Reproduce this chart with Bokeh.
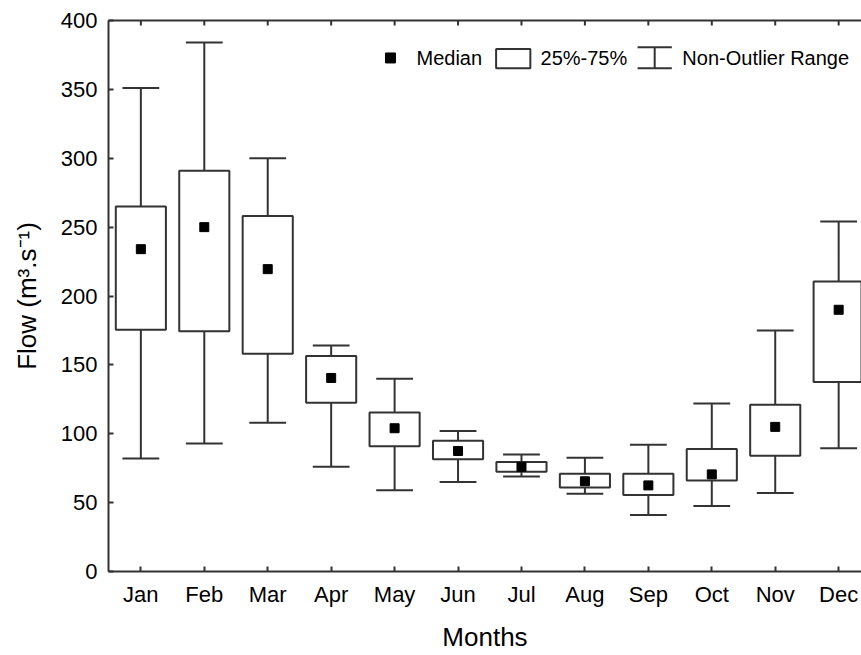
from bokeh.plotting import figure
from bokeh.models import Range1d, FixedTicker, LinearAxis, Label, ColumnDataSource
from bokeh.embed import file_html
from bokeh.resources import INLINE

# ---- data ----
months = ["Jan", "Feb", "Mar", "Apr", "May", "Jun", "Jul", "Aug", "Sep", "Oct", "Nov", "Dec"]
whisker_max = [351, 384, 300, 164, 140, 102, 85, 82.5, 92, 122, 175, 254]
q3 = [265, 291, 258, 156.5, 115.5, 95, 79.5, 71, 71, 89, 121, 210.5]
median = [234, 250, 219.5, 140.5, 104, 87.5, 76, 65.5, 62.5, 70.5, 105, 190]
q1 = [175.5, 174.5, 158, 122.5, 91, 81.5, 72.5, 61, 55.5, 66, 84, 137.5]
whisker_min = [82, 93, 108, 76, 59, 65, 69, 56.5, 41, 47.5, 57, 89.5]
y_ticks = [0, 50, 100, 150, 200, 250, 300, 350, 400]

FONT = "Liberation Sans"
INK = "#333333"
CAP_HALF = 0.29
BOX_W = 0.79
Y_MAX = 400
TOP_TICK = 3.6  # inward tick length on the top edge, in y units (~5 px)

x = list(range(1, len(months) + 1))
src = ColumnDataSource(dict(
    x=x, lo=whisker_min, q1=q1, med=median, q3=q3, hi=whisker_max,
    cl=[v - CAP_HALF for v in x], cr=[v + CAP_HALF for v in x],
))

p = figure(width=861, height=655,
           x_range=Range1d(0.49, 12.36), y_range=Range1d(0, Y_MAX),
           output_backend="svg", toolbar_location=None,
           min_border_left=108, min_border_right=0, min_border_top=20, min_border_bottom=84)
p.outline_line_color = None
p.grid.visible = False
p.background_fill_color = "white"
p.border_fill_color = "white"

bottom_axis = p.below[0]
left_axis = p.left[0]

# whiskers
p.segment(x0="x", y0="q3", x1="x", y1="hi", source=src, line_color=INK, line_width=2)
p.segment(x0="x", y0="lo", x1="x", y1="q1", source=src, line_color=INK, line_width=2)
p.segment(x0="cl", y0="hi", x1="cr", y1="hi", source=src, line_color=INK, line_width=2)
p.segment(x0="cl", y0="lo", x1="cr", y1="lo", source=src, line_color=INK, line_width=2)
# boxes
p.vbar(x="x", width=BOX_W, bottom="q1", top="q3", source=src,
       fill_color="white", line_color=INK, line_width=2)
# medians
p.scatter(x="x", y="med", source=src, marker="square", size=9, color="black")

# inward ticks along the top frame edge
p.segment(x0=x, y0=[Y_MAX] * len(x), x1=x, y1=[Y_MAX - TOP_TICK] * len(x),
          line_color=INK, line_width=2)

# ---- legend (drawn inside the frame, top right) ----
LEG_Y = 372.8
p.scatter(x=[4.935], y=[LEG_Y], marker="square", size=10, color="black")
p.quad(left=[6.60], right=[7.14], bottom=[365.3], top=[379.4],
       fill_color=None, line_color=INK, line_width=2)
p.segment(x0=[9.10], y0=[365.3], x1=[9.10], y1=[380.6], line_color=INK, line_width=2)
p.segment(x0=[8.83, 8.83], y0=[365.3, 380.6], x1=[9.37, 9.37], y1=[365.3, 380.6],
          line_color=INK, line_width=2)
for lx, txt in [(5.345, "Median"), (7.30, "25%-75%"), (9.536, "Non-Outlier Range")]:
    p.add_layout(Label(x=lx, y=LEG_Y, text=txt, text_baseline="middle",
                       text_font=FONT, text_font_size="20px", text_color="black"))

# ---- axes ----
top_axis = LinearAxis(ticker=FixedTicker(ticks=[]), axis_line_color=INK, axis_line_width=2)
p.add_layout(top_axis, "above")

bottom_axis.ticker = FixedTicker(ticks=x)
bottom_axis.major_label_overrides = {i + 1: m for i, m in enumerate(months)}
left_axis.ticker = FixedTicker(ticks=y_ticks)

for ax in [bottom_axis, left_axis]:
    ax.axis_line_color = INK
    ax.axis_line_width = 2
    ax.major_tick_line_color = INK
    ax.major_tick_line_width = 2
    ax.major_tick_in = 5
    ax.major_tick_out = 0
    ax.minor_tick_line_color = None
    ax.major_label_text_font = FONT
    ax.major_label_text_font_size = "22px"
    ax.major_label_text_color = "black"
    ax.axis_label_text_font = FONT
    ax.axis_label_text_font_size = "26px"
    ax.axis_label_text_font_style = "normal"
    ax.axis_label_text_color = "black"

bottom_axis.major_label_standoff = 10
bottom_axis.axis_label = "Months"
bottom_axis.axis_label_standoff = 12
left_axis.major_label_standoff = 11
left_axis.axis_label = "Flow (m³.s⁻¹)"
left_axis.axis_label_standoff = 16

open("out.html", "w").write(file_html(p, INLINE))
